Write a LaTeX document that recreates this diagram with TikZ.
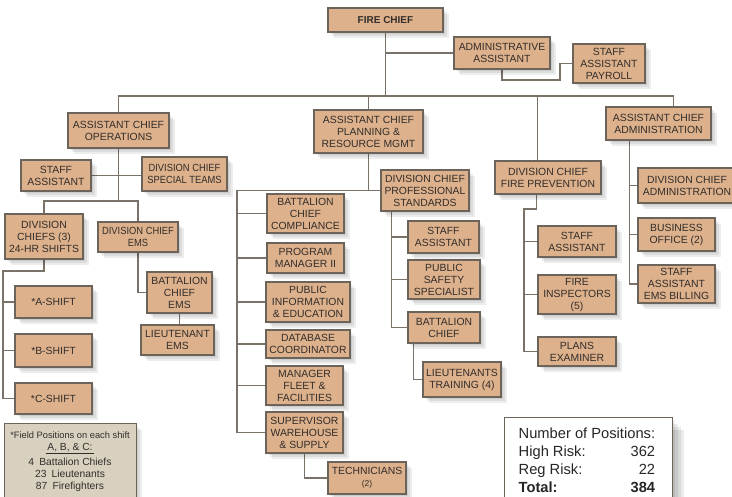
\documentclass[tikz,border=0pt]{standalone}
\usepackage{fontspec}
\setmainfont{Liberation Sans}
\newfontfamily\condfont[FakeStretch=0.9]{Liberation Sans}
\usetikzlibrary{shadows,calc,backgrounds}
\definecolor{tanfill}{RGB}{221,177,140}
\definecolor{bordc}{RGB}{108,99,91}
\definecolor{linec}{RGB}{122,113,104}
\definecolor{txtc}{RGB}{50,45,42}
\definecolor{legfill}{RGB}{216,209,192}
\tikzset{
 softshadow/.style={
  general shadow={fill=black,opacity=0.07,shadow xshift=2pt,shadow yshift=-2pt},
  general shadow={fill=black,opacity=0.07,shadow xshift=4pt,shadow yshift=-4pt},
  general shadow={fill=black,opacity=0.07,shadow xshift=6pt,shadow yshift=-6pt}},
 bigshadow/.style={
  general shadow={fill=black,opacity=0.08,shadow xshift=3pt,shadow yshift=-3pt},
  general shadow={fill=black,opacity=0.08,shadow xshift=6pt,shadow yshift=-6pt},
  general shadow={fill=black,opacity=0.08,shadow xshift=9pt,shadow yshift=-9pt},
  general shadow={fill=black,opacity=0.08,shadow xshift=12pt,shadow yshift=-12pt}},
 box/.style={draw=bordc, fill=tanfill, line width=1.1pt, text=txtc, align=center,
  inner sep=0pt, font=\fontsize{10.4}{12}\selectfont, softshadow},
 conn/.style={draw=linec, line width=1.4pt},
}
\begin{document}
\begin{tikzpicture}[x=1pt,y=-1pt]
\useasboundingbox (0,0) rectangle (732,497);
% top
\node[box,minimum width=115pt,minimum height=24pt,font=\bfseries\fontsize{10}{12}\selectfont] (fc) at (385.5,20) {FIRE CHIEF};
\node[box,minimum width=96pt,minimum height=32pt] (aa) at (502,53) {ADMINISTRATIVE\\ASSISTANT};
\node[box,minimum width=72pt,minimum height=39pt] (sap) at (609,63.5) {STAFF\\ASSISTANT\\PAYROLL};
% assistant chiefs
\node[box,minimum width=101pt,minimum height=35pt] (aco) at (118.5,130.5) {ASSISTANT CHIEF\\OPERATIONS};
\node[box,minimum width=109pt,minimum height=43pt] (acp) at (368.5,131.5) {ASSISTANT CHIEF\\PLANNING \&\\RESOURCE MGMT};
\node[box,minimum width=105pt,minimum height=33pt] (aca) at (658.5,123.5) {ASSISTANT CHIEF\\ADMINISTRATION};
\node[box,minimum width=106pt,minimum height=33pt] (dfp) at (548,177.5) {DIVISION CHIEF\\FIRE PREVENTION};
% operations
\node[box,minimum width=70pt,minimum height=31pt] (sa1) at (56,175.5) {STAFF\\ASSISTANT};
\node[box,minimum width=85pt,minimum height=34pt,font=\condfont\fontsize{10.4}{12}\selectfont] (dcst) at (184.5,174) {DIVISION CHIEF\\SPECIAL TEAMS};
\node[box,minimum width=78pt,minimum height=45pt] (dcs) at (44,236.5) {DIVISION\\CHIEFS (3)\\24-HR SHIFTS};
\node[box,minimum width=80pt,minimum height=30pt,font=\condfont\fontsize{10.4}{12}\selectfont] (dcems) at (138,237) {DIVISION CHIEF\\EMS};
\node[box,minimum width=77pt,minimum height=32pt] (ash) at (53.5,302) {*A-SHIFT};
\node[box,minimum width=77pt,minimum height=33pt] (bsh) at (53.5,350.5) {*B-SHIFT};
\node[box,minimum width=77pt,minimum height=31pt] (csh) at (53.5,398.5) {*C-SHIFT};
\node[box,minimum width=65pt,minimum height=41pt] (bcems) at (179.5,292.5) {BATTALION\\CHIEF\\EMS};
\node[box,minimum width=73pt,minimum height=30pt] (ltems) at (177.5,340) {LIEUTENANT\\EMS};
% planning
\node[box,minimum width=88pt,minimum height=41pt] (dcps) at (425,190.5) {DIVISION CHIEF\\PROFESSIONAL\\STANDARDS};
\node[box,minimum width=77pt,minimum height=39pt] (bcc) at (305.5,213.5) {BATTALION\\CHIEF\\COMPLIANCE};
\node[box,minimum width=77pt,minimum height=30pt] (pm2) at (305.5,258) {PROGRAM\\MANAGER II};
\node[box,minimum width=84pt,minimum height=40pt] (pie) at (308,302) {PUBLIC\\INFORMATION\\\& EDUCATION};
\node[box,minimum width=84pt,minimum height=28pt] (db) at (308,344) {DATABASE\\COORDINATOR};
\node[box,minimum width=77pt,minimum height=39pt] (mff) at (304.5,385.5) {MANAGER\\FLEET \&\\FACILITIES};
\node[box,minimum width=77pt,minimum height=41pt] (sws) at (304.5,432.5) {SUPERVISOR\\WAREHOUSE\\\& SUPPLY};
\node[box,minimum width=78pt,minimum height=32pt] (tech) at (367,478) {TECHNICIANS\\{\fontsize{8.5}{10}\selectfont (2)}};
\node[box,minimum width=71pt,minimum height=32pt] (sa2) at (443.5,237) {STAFF\\ASSISTANT};
\node[box,minimum width=72pt,minimum height=39pt] (pss) at (444,279.5) {PUBLIC\\SAFETY\\SPECIALIST};
\node[box,minimum width=72pt,minimum height=31pt] (bc) at (444,327.5) {BATTALION\\CHIEF};
\node[box,minimum width=78pt,minimum height=35pt] (ltt) at (462,379.5) {LIEUTENANTS\\TRAINING (4)};
% fire prevention
\node[box,minimum width=78pt,minimum height=31pt] (sa3) at (577,241.5) {STAFF\\ASSISTANT};
\node[box,minimum width=78pt,minimum height=39pt] (fi) at (577,294.5) {FIRE\\INSPECTORS\\(5)};
\node[box,minimum width=78pt,minimum height=29pt] (pe) at (577,351.5) {PLANS\\EXAMINER};
% administration
\node[box,minimum width=98pt,minimum height=35pt] (dca) at (687,185.5) {DIVISION CHIEF\\ADMINISTRATION};
\node[box,minimum width=77pt,minimum height=33pt] (bo) at (676.5,234.5) {BUSINESS\\OFFICE (2)};
\node[box,minimum width=77pt,minimum height=38pt] (seb) at (676.5,284) {STAFF\\ASSISTANT\\EMS BILLING};
% legend
\node[draw=bordc, fill=legfill, line width=1pt, minimum width=132pt, minimum height=81pt, inner sep=0pt, softshadow] (leg) at (70,464.5) {};
\node[anchor=north, align=center, text=txtc, font=\fontsize{10.3}{12}\selectfont, inner sep=0pt] (legt) at ([yshift=-8pt]leg.north) {{\fontsize{9.3}{12}\selectfont *Field Positions on each shift}\\ \underline{\,A, B, \& C:\,}\\[3.5pt] 4\enspace Battalion Chiefs\\ 23\enspace Lieutenants\\ 87\enspace Firefighters};
% positions
\node[draw=bordc, fill=white, line width=1pt, minimum width=168pt, minimum height=92pt, inner sep=0pt, bigshadow] (pos) at (588,464) {};
\node[anchor=north west, inner sep=0pt, text=black!85, font=\fontsize{14.7}{18}\selectfont] (post) at ([xshift=15pt,yshift=-8pt]pos.north west) {\begin{tabular}{@{}l@{}r@{}}\multicolumn{2}{@{}l@{}}{Number of Positions:}\\ High Risk:~ & 362\\ Reg Risk: & 22\\ \textbf{Total:} & \textbf{384}\end{tabular}};
% connectors
\begin{pgfonlayer}{background}
 \coordinate (bus) at (0,96);
 \coordinate (acatop) at ([xshift=68pt]aca.north west);
 \coordinate (dfptop) at ([xshift=43pt]dfp.north west);
 \draw[conn] (aco.north) |- (acatop |- bus) -- (acatop);
 \draw[conn] (fc.south) -- (fc.south |- bus);
 \draw[conn] (acp.north) -- (acp.north |- bus);
 \draw[conn] (dfptop) -- (dfptop |- bus);
 \draw[conn] (aa.west) -- (aa.west -| fc.south);
 \coordinate (pk) at (560,80);
 \draw[conn] (aa.south) |- (pk) |- (sap.west);
 % operations
 \coordinate (opsbus) at (0,201);
 \draw[conn] (aco.south) -- (aco.south |- opsbus);
 \draw[conn] (dcs.north) |- (dcems.north |- opsbus) -- (dcems.north);
 \draw[conn] (sa1.east) -- (dcst.west |- sa1.east);
 \coordinate (sl) at (3,271);
 \draw[conn] (dcs.south) |- (sl) |- (csh.west);
 \draw[conn] (ash.west) -- (ash.west -| sl);
 \draw[conn] (bsh.west) -- (bsh.west -| sl);
 \draw[conn] (dcems.south) |- (bcems.west);
 \draw[conn] (bcems.south) -- (bcems.south |- ltems.north);
 % planning
 \coordinate (pl) at (237,0);
 \draw[conn] (acp.south) |- (dcps.west);
 \draw[conn] (acp.south |- dcps.west) -- (pl |- dcps.west) |- (sws.west);
 \draw[conn] (bcc.west) -- (bcc.west -| pl);
 \draw[conn] (pm2.west) -- (pm2.west -| pl);
 \draw[conn] (pie.west) -- (pie.west -| pl);
 \draw[conn] (db.west) -- (db.west -| pl);
 \draw[conn] (mff.west) -- (mff.west -| pl);
 \draw[conn] (sws.south) |- (tech.west);
 \coordinate (psl) at ([xshift=11pt]dcps.south west);
 \draw[conn] (psl) |- (bc.west);
 \draw[conn] (sa2.west) -- (sa2.west -| psl);
 \draw[conn] (pss.west) -- (pss.west -| psl);
 \draw[conn] ([xshift=6pt]bc.south west) |- (ltt.west);
 % fire prevention
 \coordinate (fpl) at (524,209);
 \draw[conn] ([xshift=42pt]dfp.south west) |- (fpl) |- (pe.west);
 \draw[conn] (sa3.west) -- (sa3.west -| fpl);
 \draw[conn] (fi.west) -- (fi.west -| fpl);
 % administration
 \coordinate (adl) at ([xshift=24pt]aca.south west);
 \draw[conn] (adl) |- (seb.west);
 \draw[conn] (dca.west) -- (dca.west -| adl);
 \draw[conn] (bo.west) -- (bo.west -| adl);
\end{pgfonlayer}
\end{tikzpicture}
\end{document}
